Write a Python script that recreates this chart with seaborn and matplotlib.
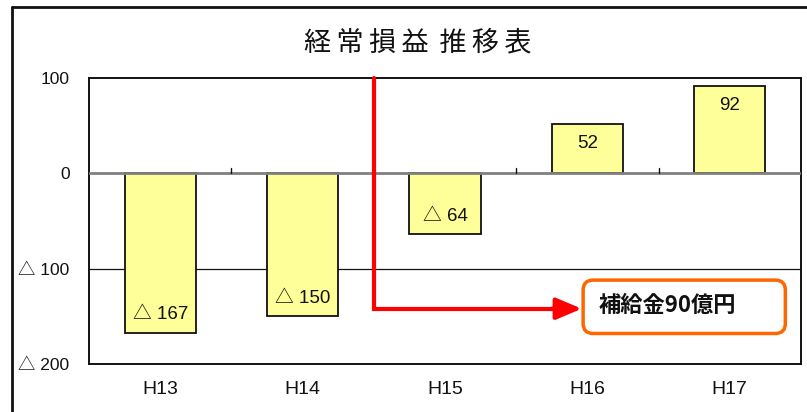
import matplotlib
matplotlib.use("Agg")
import matplotlib.pyplot as plt
import seaborn as sns
import pandas as pd
from matplotlib.patches import FancyBboxPatch
from matplotlib.lines import Line2D

# 経常損益（億円）
years = ["H13", "H14", "H15", "H16", "H17"]
profit = [-167, -150, -64, 52, 92]
y_ticks = [100, 0, -100, -200]
y_tick_labels = ["100", "0", "△ 100", "△ 200"]
subsidy_label = "補給金90億円"
title = "経常損益 推移表"

sns.set_theme(style="white")
plt.rcParams["font.family"] = ["Liberation Sans", "Noto Sans CJK JP", "DejaVu Sans"]
CJK = ["Noto Sans CJK JP", "DejaVu Sans"]

fig = plt.figure(figsize=(8.07, 4.12), dpi=100)
ax = fig.add_axes([89 / 807, 1 - 364 / 412, (801 - 89) / 807, (364 - 78) / 412])

df = pd.DataFrame({"year": years, "profit": profit})
sns.barplot(data=df, x="year", y="profit", color="#FFFF99", saturation=1,
            edgecolor="#111111", linewidth=1.3, width=0.5, ax=ax, zorder=3)

ax.set_ylim(-200, 100)
ax.set_xlim(-0.5, len(years) - 0.5)
ax.set_yticks(y_ticks)
ax.set_yticklabels(y_tick_labels, fontsize=12.5)
ax.tick_params(axis="y", length=0, pad=14, colors="#111111")
ax.tick_params(axis="x", length=0, pad=12, labelsize=14, colors="#111111")
ax.set_xlabel("")
ax.set_ylabel("")

for s in ax.spines.values():
    s.set_visible(True)
    s.set_color("#111111")
    s.set_linewidth(1.4)

# 横線
ax.axhline(-100, color="#111111", lw=0.9, zorder=1)
ax.axhline(0, color="#808080", lw=2.0, zorder=4)
for b in [0.5, 1.5, 2.5, 3.5]:
    ax.plot([b, b], [0, 6], color="#111111", lw=1.0, zorder=4)

# 値ラベル
for i, v in enumerate(profit):
    txt = f"△ {abs(v)}" if v < 0 else f"{v}"
    ypos = v + 19 if v < 0 else v - 21
    ax.text(i, ypos, txt, ha="center", va="center", fontsize=13.5,
            color="#111111", zorder=5)

# 補給金の矢印と注記
arrow_y = -142
ax.plot([1.5, 1.5, 2.8], [100, arrow_y, arrow_y], color="#FF0000", lw=3,
        solid_joinstyle="miter", zorder=6, clip_on=False)
ax.annotate("", xy=(2.96, arrow_y), xytext=(2.75, arrow_y),
            arrowprops=dict(arrowstyle="-|>,head_length=1.3,head_width=0.55",
                            color="#FF0000", lw=3, shrinkA=0, shrinkB=0),
            zorder=6)
box = FancyBboxPatch((2.97, -168), 1.42, 56,
                     boxstyle="round,pad=0,rounding_size=0.07",
                     mutation_aspect=150, facecolor="white",
                     edgecolor="#FF6600", lw=2.5, zorder=6)
ax.add_patch(box)
ax.text(3.08, -139, subsidy_label, ha="left", va="center", fontsize=16,
        fontweight="bold", family=CJK, color="#111111", zorder=7)

# タイトル（字間を空ける）
spaced_title = "\u2009\u2009".join("\u2009".join(w) for w in title.split(" "))
fig.text(418 / 807, 1 - 43 / 412, spaced_title, ha="center", va="center",
         fontsize=19.5, family=CJK, color="#111111")

# 外枠
fig.add_artist(Line2D([12 / 807, 12 / 807], [0, 1 - 7 / 412], color="#111111",
                      lw=2, transform=fig.transFigure))
fig.add_artist(Line2D([12 / 807, 1], [1 - 7 / 412, 1 - 7 / 412], color="#111111",
                      lw=2, transform=fig.transFigure))

fig.savefig("out.png", dpi=100)
